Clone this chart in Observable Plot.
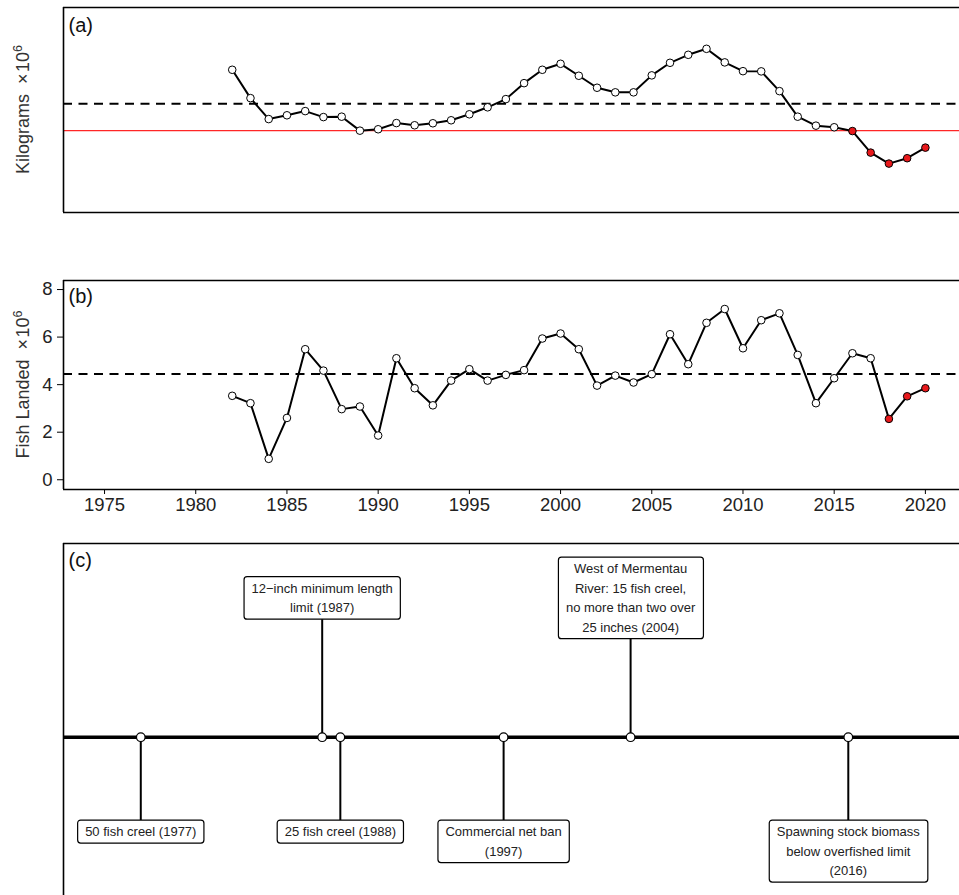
<!DOCTYPE html>
<html><head><meta charset="utf-8">
<script src="https://cdn.jsdelivr.net/npm/d3@7"></script>
<script src="https://cdn.jsdelivr.net/npm/@observablehq/plot@0.6"></script>
<style>
html,body{margin:0;padding:0;background:#fff;}
#chart{width:959px;height:895px;overflow:hidden;}
#chart svg{display:block;}
</style></head><body><div id="chart"></div>
<script>
// ---------- data ----------
const years = [1982,1983,1984,1985,1986,1987,1988,1989,1990,1991,1992,1993,1994,1995,1996,1997,1998,1999,2000,2001,
  2002,2003,2004,2005,2006,2007,2008,2009,2010,2011,2012,2013,2014,2015,2016,2017,2018,2019,2020];
// (a) spawning stock biomass (kg x 10^6, relative scale; no y ticks in original)
const biomass = [7.15,5.73,4.68,4.87,5.08,4.78,4.80,4.10,4.17,4.48,4.37,4.47,4.62,4.92,5.27,5.68,6.48,7.15,7.45,6.85,
  6.25,6.02,6.02,6.87,7.50,7.90,8.20,7.52,7.08,7.07,6.08,4.80,4.35,4.27,4.08,3.00,2.45,2.72,3.25];
const biomassMean = 5.45;
const biomassLimit = 4.10;
const redYearsA = [2016,2017,2018,2019,2020];
// (b) fish landed (x 10^6)
const landed = [3.53,3.22,0.88,2.60,5.49,4.59,2.97,3.08,1.86,5.11,3.85,3.13,4.17,4.65,4.17,4.41,4.61,5.94,6.15,5.49,
  3.96,4.38,4.09,4.44,6.12,4.86,6.60,7.18,5.53,6.71,7.00,5.25,3.22,4.27,5.32,5.11,2.56,3.51,3.85];
const landedMean = 4.45;
const redYearsB = [2018,2019,2020];
const xTicks = [1975,1980,1985,1990,1995,2000,2005,2010,2015,2020];
const yTicksB = [0,2,4,6,8];
// (c) management timeline
const eventYears = [1977,1987,1988,1997,2004,2016];
const eventLabels = [
  "50 fish creel (1977)",
  "12\u2212inch minimum length\nlimit (1987)",
  "25 fish creel (1988)",
  "Commercial net ban\n(1997)",
  "West of Mermentau\nRiver: 15 fish creel,\nno more than two over\n25 inches (2004)",
  "Spawning stock biomass\nbelow overfished limit\n(2016)"
];
const eventSide = ["down","up","down","down","up","down"];

// ---------- layout ----------
const FONT = '"Liberation Sans", Arial, Helvetica, sans-serif';
const xDomainAB = [1972.75, 2021.87];
const xDomainC = [1972.74, 2022.13];
const yDomainA = [0, 10.27];
const yDomainB = [-0.41, 8.38];
const yDomainC = [-1.583, 1.937];
const upY = 1.41, downY = -0.85;

const dataA = years.map((year, i) => ({year, value: biomass[i], red: redYearsA.includes(year)}));
const dataB = years.map((year, i) => ({year, value: landed[i], red: redYearsB.includes(year)}));
const events = eventYears.map((year, i) => ({year, label: eventLabels[i], side: eventSide[i]}));

const baseStyle = {fontFamily: FONT, background: "white", overflow: "visible", color: "#222"};
const RED_DOT = "#E8191C";

function seriesMarks(data, refs) {
  return [
    ...refs,
    Plot.line(data, {x: "year", y: "value", stroke: "black", strokeWidth: 2}),
    Plot.dot(data.filter(d => !d.red), {x: "year", y: "value", r: 3.8, fill: "white", stroke: "black", strokeWidth: 1}),
    Plot.dot(data.filter(d => d.red), {x: "year", y: "value", r: 3.8, fill: RED_DOT, stroke: "black", strokeWidth: 1})
  ];
}

const chartA = Plot.plot({
  width: 959, height: 250, marginLeft: 63, marginRight: 0, marginTop: 7, marginBottom: 38,
  style: baseStyle,
  x: {domain: xDomainAB, axis: null},
  y: {domain: yDomainA, axis: null},
  marks: [
    ...seriesMarks(dataA, [
      Plot.ruleY([biomassLimit], {stroke: "#FF2626", strokeWidth: 1.2}),
      Plot.ruleY([biomassMean], {stroke: "black", strokeWidth: 2, strokeDasharray: "9,6.5"})
    ]),
    Plot.ruleY(yDomainA, {stroke: "black", strokeWidth: 1.6}),
    Plot.ruleX([xDomainAB[0]], {stroke: "black", strokeWidth: 1.6}),
    Plot.text(["(a)"], {text: d => d, frameAnchor: "top-left", dx: 5, dy: 10, fontSize: 20, textAnchor: "start", lineAnchor: "top", fill: "#111"})
  ]
});

const chartB = Plot.plot({
  width: 959, height: 290, marginLeft: 63, marginRight: 0, marginTop: 30, marginBottom: 51,
  style: baseStyle,
  x: {domain: xDomainAB, label: null},
  y: {domain: yDomainB, label: null},
  marks: [
    Plot.axisX({ticks: xTicks, tickFormat: d => String(d), tickSize: 5, tickPadding: 3, fontSize: 18.5, label: null, stroke: "black"}),
    Plot.axisY({ticks: yTicksB, tickSize: 6, tickPadding: 5, fontSize: 18.5, label: null, stroke: "black"}),
    ...seriesMarks(dataB, [
      Plot.ruleY([landedMean], {stroke: "black", strokeWidth: 2, strokeDasharray: "9,6.5"})
    ]),
    Plot.ruleY(yDomainB, {stroke: "black", strokeWidth: 1.6}),
    Plot.ruleX([xDomainAB[0]], {stroke: "black", strokeWidth: 1.6}),
    Plot.text(["(b)"], {text: d => d, frameAnchor: "top-left", dx: 5, dy: 8, fontSize: 20, textAnchor: "start", lineAnchor: "top", fill: "#111"})
  ]
});

const chartC = Plot.plot({
  width: 959, height: 355, marginLeft: 63, marginRight: 0, marginTop: 3, marginBottom: 0,
  style: baseStyle,
  x: {domain: xDomainC, axis: null},
  y: {domain: yDomainC, axis: null},
  marks: [
    Plot.ruleY([0], {stroke: "black", strokeWidth: 3.5}),
    Plot.ruleX(events, {x: "year", y1: 0, y2: d => d.side === "up" ? upY : downY, stroke: "black", strokeWidth: 2}),
    Plot.dot(events, {x: "year", y: 0, r: 4.3, fill: "white", stroke: "black", strokeWidth: 1.2}),
    Plot.text(events.filter(d => d.side === "up"), {x: "year", y: upY, text: "label", fontSize: 13, lineHeight: 1.5, lineAnchor: "middle", fill: "#222"}),
    Plot.text(events.filter(d => d.side === "down"), {x: "year", y: downY, text: "label", fontSize: 13, lineHeight: 1.5, lineAnchor: "top", fill: "#222"}),
    Plot.ruleY([yDomainC[1]], {stroke: "black", strokeWidth: 1.6}),
    Plot.ruleX([xDomainC[0]], {stroke: "black", strokeWidth: 1.6}),
    Plot.text(["(c)"], {text: d => d, frameAnchor: "top-left", dx: 5, dy: 9, fontSize: 20, textAnchor: "start", lineAnchor: "top", fill: "#111"})
  ]
});

const root = document.getElementById("chart");
root.append(chartA, chartB, chartC);

// y-axis titles with superscript
function addYTitle(svg, main, cy) {
  const t = d3.select(svg).append("text")
    .attr("transform", `translate(29,${cy}) rotate(-90)`)
    .attr("text-anchor", "middle")
    .attr("font-size", 18)
    .attr("font-family", FONT)
    .attr("fill", "#333");
  t.append("tspan").text(main + "\u00a0\u00a0\u00d7\u200a10");
  t.append("tspan").attr("font-size", 12.5).attr("dy", -7.5).text("6");
}
addYTitle(chartA, "Kilograms", 109.5);
addYTitle(chartB, "Fish Landed", 134.5);

// rounded label boxes behind event texts
const labelSet = new Set(eventLabels.map(s => s.replace(/\n/g, "")));
chartC.querySelectorAll("text").forEach(t => {
  const content = (t.textContent || "").replace(/\n/g, "");
  if (!labelSet.has(content)) return;
  const bb = t.getBBox();
  const r = document.createElementNS("http://www.w3.org/2000/svg", "rect");
  r.setAttribute("x", bb.x - 7.5);
  r.setAttribute("y", bb.y - 4);
  r.setAttribute("width", bb.width + 15);
  r.setAttribute("height", bb.height + 8);
  r.setAttribute("rx", 3);
  r.setAttribute("fill", "white");
  r.setAttribute("stroke", "black");
  r.setAttribute("stroke-width", 1.2);
  const tr = t.getAttribute("transform");
  if (tr) r.setAttribute("transform", tr);
  t.parentNode.insertBefore(r, t);
});
</script></body></html>
